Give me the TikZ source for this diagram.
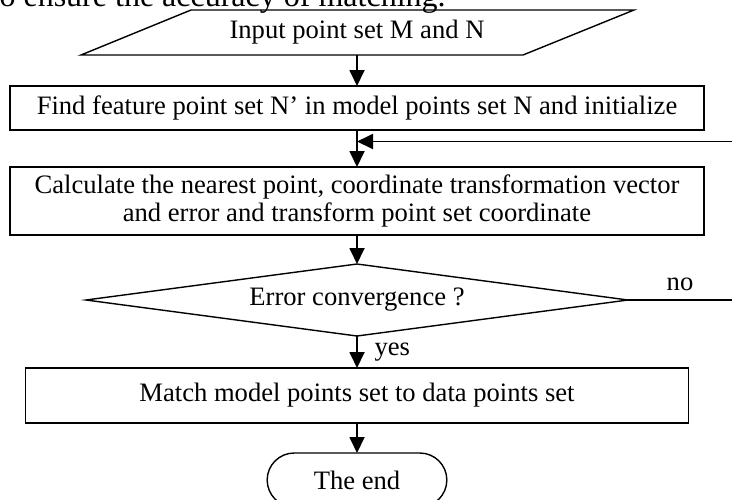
\documentclass[tikz,border=0pt]{standalone}
\usepackage{fontspec}
\setmainfont{Liberation Serif}
\usetikzlibrary{positioning}
\usetikzlibrary{shapes.geometric,shapes.misc,arrows.meta}

\begin{document}
\begin{tikzpicture}[x=0.5pt,y=-0.5pt,
    every node/.style={font=\fontsize{13.3}{13.6}\selectfont},
    stepbox/.style={draw,line width=0.7pt,rectangle,outer sep=0pt,minimum width=#1,align=center},
    flow/.style={-{Triangle[length=8pt,width=7.5pt]},line width=0.9pt},
    link/.style={line width=0.9pt}]
  \useasboundingbox (0,0) rectangle (732,499);
  %% text of the page above the figure
  \node[anchor=base east,inner sep=0pt,font=\fontsize{16}{18}\selectfont] (lead) at (446,6)
       {to ensure the accuracy of matching.};
  %% input parallelogram
  \node[inner sep=0pt,outer sep=0pt,minimum width=221pt,minimum height=22.5pt] (input) at (357,32.5)
       {Input point set M and N};
  \draw[line width=0.7pt] (81,55) -- (523,55) -- (634,10) -- (191,10) -- cycle;
  \node[stepbox=347pt,minimum height=22pt,below=15.5pt of input] (find)
       {Find feature point set N’ in model points set N and initialize};
  \draw[flow] (input) -- (find);
  \node[stepbox=347pt,minimum height=34pt,below=18.5pt of find] (calc)
       {Calculate the nearest point, coordinate transformation vector\\
        and error and transform point set coordinate};
  \draw[flow] (find) -- (calc);
  %% loop back from the no branch
  \coordinate (loopin) at (732,141.5);
  \draw[flow] (loopin) -- (loopin -| find.south);
  \node[draw,line width=0.7pt,diamond,aspect=7.5,inner sep=0pt,outer sep=0pt,
        minimum width=271pt,minimum height=36pt,below=14.5pt of calc] (check)
       {Error convergence ?};
  \draw[flow] (calc) -- (check);
  \coordinate (noout) at (check.east -| loopin);
  \draw[link] (check.east) -- (noout) node[midway,above=1pt] {no};
  \node[stepbox=331.5pt,minimum height=27.5pt,below=16pt of check] (match)
       {Match model points set to data points set};
  \draw[flow] (check) -- (match) node[midway,right=5pt] {yes};
  \node[draw,line width=0.7pt,rounded rectangle,outer sep=0pt,minimum width=96.5pt,minimum height=27pt,
        below=15pt of match] (theend) {The end};
  \draw[flow] (match) -- (theend);
\end{tikzpicture}
\end{document}
